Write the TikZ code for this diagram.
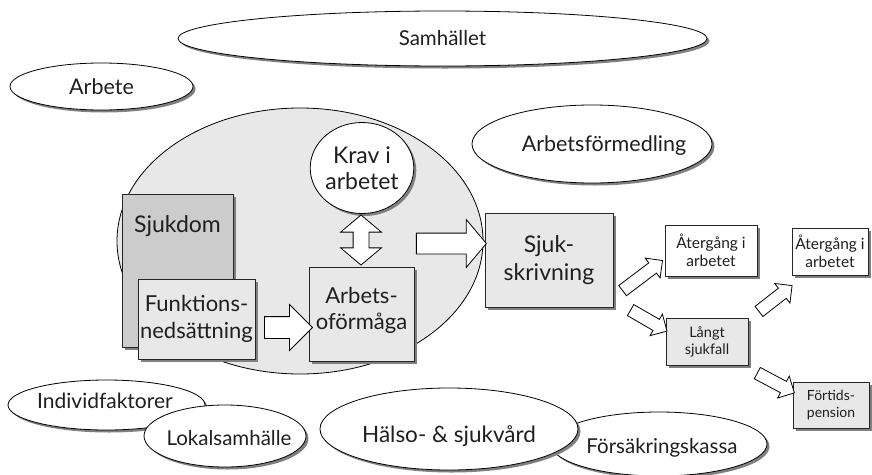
\documentclass[tikz,border=0pt]{standalone}
\usepackage{fontspec}
\setmainfont{Lato}
\usetikzlibrary{shapes.geometric,shapes.arrows,shadows,calc}
\definecolor{lgray}{gray}{0.91}
\definecolor{mgray}{gray}{0.80}
\definecolor{ink}{gray}{0.12}
\newcommand\fsz[2]{\fontsize{#1pt}{#2pt}\selectfont}
\tikzset{
  shd/.style={drop shadow={shadow xshift=2.5pt,shadow yshift=-2.5pt,fill=black!50,opacity=1}},
  oval/.style={ellipse, draw=black, line width=0.8pt, fill=white, inner sep=0pt, shd, text=ink, align=center},
  box/.style={rectangle, draw=black!85, line width=0.8pt, fill=lgray, inner sep=0pt, shd, align=center, text=ink},
  wbox/.style={box, fill=white},
  lbl/.style={text=ink, inner sep=0pt, align=center},
  barrow/.style={single arrow, draw=black, line width=0.8pt, fill=white, inner xsep=0pt},
  sarrow/.style={barrow, inner ysep=6pt, single arrow head extend=6pt},
}
\begin{document}
\begin{tikzpicture}[x=1pt,y=-1pt]
\useasboundingbox (0,0) rectangle (872,474);
% outer ellipses
\node[oval, minimum width=529pt, minimum height=55pt, font=\fsz{20.5}{25}] (samh) at (442.5,38.5) {Samhället};
\node[oval, minimum width=183pt, minimum height=47pt, font=\fsz{21.5}{25}] (arbete) at (101.5,86.5) {Arbete};
\node[oval, minimum width=240pt, minimum height=78pt] (af) at (592,144) {};
\node[lbl, font=\fsz{21.5}{25}] (aft) at (604,146) {Arbetsförmedling};
% central gray ellipse
\node[ellipse, draw=black, line width=0.8pt, fill=lgray, minimum width=366pt, minimum height=266pt, inner sep=0pt] (indiv) at (300,241) {};
\node[oval, minimum width=101pt, minimum height=91pt, font=\fsz{23}{26}] (krav) at (362,168) {Krav i\\arbetet};
% boxes
\node[box, fill=mgray, minimum width=111pt, minimum height=153pt] (sjd) at (177.5,270.5) {};
\node[lbl, font=\fsz{23}{26}] (sjdt) at (177.5,226) {Sjukdom};
\node[box, minimum width=117pt, minimum height=80pt, font=\fsz{22}{27}] (funk) at (196.5,319) {Funktions-\\nedsättning};
\node[box, minimum width=105pt, minimum height=94pt] (arbo) at (361.5,314) {};
\node[lbl, font=\fsz{22}{26}] (arbot) at (361.5,310) {Arbets-\\oförmåga};
\node[box, minimum width=128pt, minimum height=94pt, font=\fsz{23}{28}] (sjsk) at (549,260) {Sjuk-\\skrivning};
\node[wbox, minimum width=92pt, minimum height=51pt, font=\fsz{15.5}{17.5}] (at1) at (711,250.5) {Återgång i\\arbetet};
\node[wbox, minimum width=76pt, minimum height=47pt, font=\fsz{15.5}{17.5}] (at2) at (830,251.5) {Återgång i\\arbetet};
\node[box, minimum width=82pt, minimum height=47pt, font=\fsz{14.5}{17}] (lang) at (707,341.5) {Långt\\sjukfall};
\node[box, minimum width=76pt, minimum height=46pt, font=\fsz{14}{17}] (fort) at (831,405) {Förtids-\\pension};
% block arrows
\node[barrow, minimum height=48pt, inner ysep=10.5pt, single arrow head extend=12pt] (a1) at (283,327.5) {};
\node[double arrow, draw=black, line width=0.8pt, fill=white, inner xsep=0pt, inner ysep=7.5pt, rotate=90, minimum height=50pt, double arrow head extend=12.5pt, double arrow tip angle=100] (a2) at (361,240) {};
\node[barrow, minimum height=70pt, inner ysep=10pt, single arrow head extend=13.5pt, single arrow tip angle=100] (a3) at (447,243.5) {};
\node[sarrow, rotate=37, minimum height=50pt] (s1) at (640,277.5) {};
\node[sarrow, rotate=-30, minimum height=42pt] (s2) at (646,319) {};
\node[sarrow, rotate=38, minimum height=42pt] (s3) at (773,300.5) {};
\node[sarrow, rotate=-28, minimum height=42pt] (s4) at (773,381.5) {};
% bottom ellipses
\node[oval, minimum width=197pt, minimum height=50pt] (indf) at (106.5,405) {};
\node[lbl, font=\fsz{21}{25}] (indft) at (105,401) {Individfaktorer};
\node[oval, minimum width=162pt, minimum height=62pt] (lokal) at (225,436) {};
\node[lbl, font=\fsz{20.5}{25}] (lokalt) at (229,438) {Lokalsamhälle};
\node[oval, minimum width=216pt, minimum height=64pt] (fk) at (659,444) {};
\node[lbl, font=\fsz{20.5}{25}] (fkt) at (662,448) {Försäkringskassa};
\node[oval, minimum width=258pt, minimum height=82pt] (hs) at (449,429) {};
\node[lbl, font=\fsz{22.5}{26}] (hst) at (449,436) {Hälso- \& sjukvård};
\end{tikzpicture}
\end{document}
